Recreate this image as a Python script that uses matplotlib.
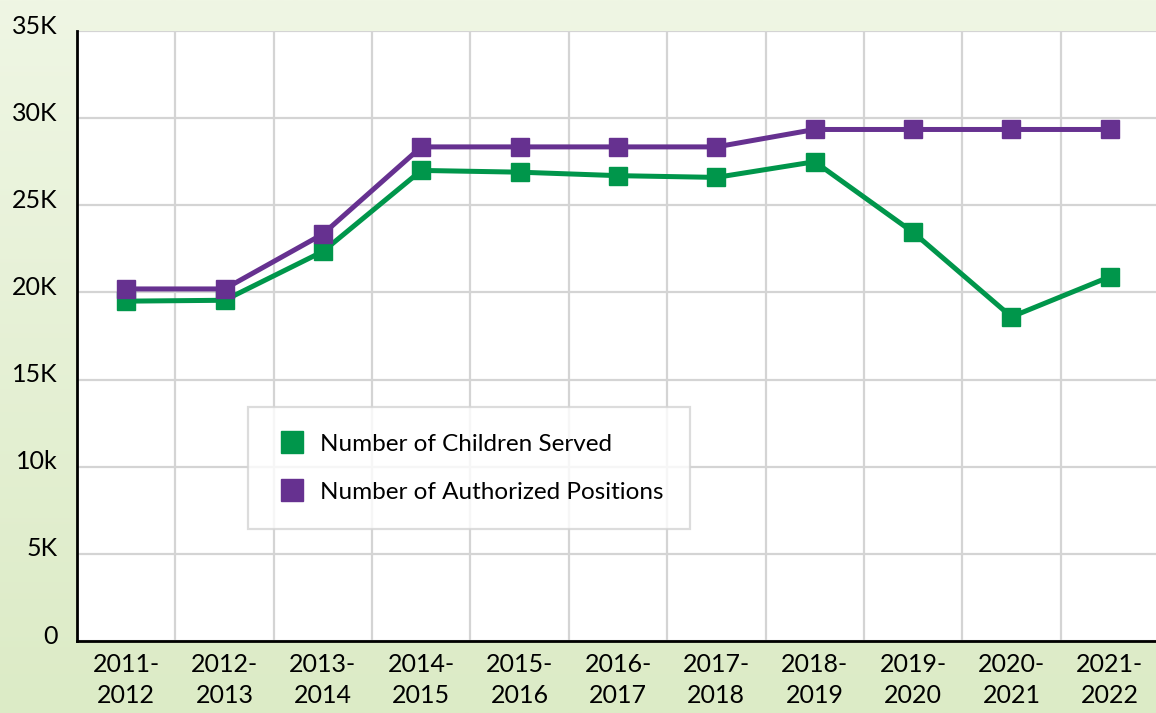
import numpy as np
import matplotlib.pyplot as plt
from matplotlib.ticker import FixedLocator, FuncFormatter
from matplotlib.transforms import ScaledTranslation

# School years and values
years = ["2011-\n2012", "2012-\n2013", "2013-\n2014", "2014-\n2015", "2015-\n2016",
         "2016-\n2017", "2017-\n2018", "2018-\n2019", "2019-\n2020", "2020-\n2021",
         "2021-\n2022"]
children_served = [19500, 19550, 22350, 27000, 26900, 26700, 26600, 27500, 23450, 18600, 20900]
authorized_positions = [20200, 20200, 23350, 28350, 28350, 28350, 28350, 29350, 29350, 29350, 29350]

green = '#00964B'
purple = '#663190'

plt.rcParams['font.family'] = ['Lato', 'DejaVu Sans']

fig = plt.figure(figsize=(11.56, 7.13), dpi=100)

# light green gradient background
bg = fig.add_axes([0, 0, 1, 1], zorder=-10)
grad = np.linspace(0, 1, 256).reshape(-1, 1)
top = np.array([0xEF, 0xF6, 0xE4]) / 255
bot = np.array([0xDC, 0xEB, 0xC6]) / 255
img = top + (bot - top) * grad[:, :, None]
bg.imshow(img, aspect='auto', extent=[0, 1, 0, 1])
bg.axis('off')

ax = fig.add_axes([77 / 1156, 72 / 713, 1082 / 1156, 610 / 713])
ax.set_facecolor('white')

x = np.arange(len(years))
ax.plot(x, children_served, color=green, lw=3.6, marker='s', markersize=13,
        label='Number of Children Served', zorder=3)
ax.plot(x, authorized_positions, color=purple, lw=3.6, marker='s', markersize=13,
        label='Number of Authorized Positions', zorder=3)

ax.set_xlim(-0.5, len(years) - 0.5)
ax.set_ylim(0, 35000)
ax.set_xticks(x)
ax.set_xticklabels(years, fontsize=18, linespacing=1.4)
ax.xaxis.set_minor_locator(FixedLocator(np.arange(0.5, len(years) - 0.5, 1)))
ax.set_yticks(np.arange(0, 35001, 5000))
ax.yaxis.set_major_formatter(FuncFormatter(
    lambda v, p: '0' if v == 0 else ('10k' if v == 10000 else f'{int(v / 1000)}K')))
ax.tick_params(axis='y', labelsize=18, length=0, pad=14)
ax.tick_params(axis='x', which='both', length=0, pad=9)

ax.grid(axis='y', color='#D4D4D4', lw=1.6)
ax.grid(axis='x', which='minor', color='#D4D4D4', lw=1.6)
ax.set_axisbelow(True)

for s in ['top', 'right']:
    ax.spines[s].set_visible(False)
ax.spines['left'].set_linewidth(2)
ax.spines['bottom'].set_linewidth(2)

# y labels sit on their gridlines, nudged down a touch
shift = ScaledTranslation(0, -2.5 / 100, fig.dpi_scale_trans)
for lab in ax.get_yticklabels():
    lab.set_verticalalignment('baseline')
    lab.set_transform(lab.get_transform() + shift)

leg = ax.legend(loc='lower left', bbox_to_anchor=(0.158, 0.183), borderaxespad=0,
                fontsize=17.5, frameon=True, fancybox=False, edgecolor='#D4D4D4',
                handlelength=1.4, handletextpad=0.45, borderpad=1.1, labelspacing=1.1,
                markerscale=1.2)
leg.get_frame().set_linewidth(1.6)
for h in leg.legend_handles:
    h.set_linestyle('none')

fig.savefig('out.png', dpi=100)
